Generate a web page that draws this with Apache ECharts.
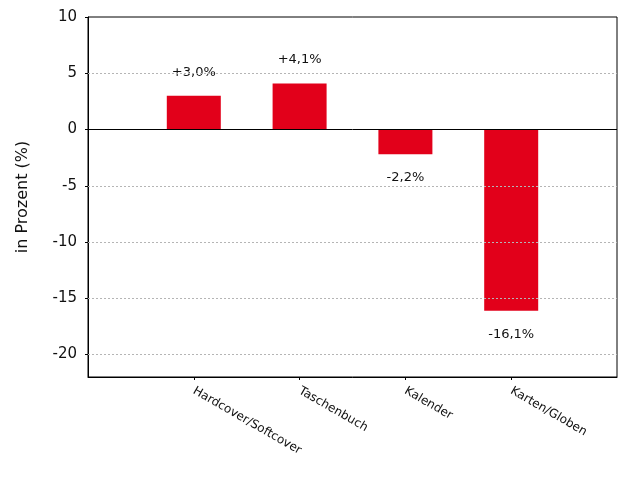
<!DOCTYPE html>
<html>
<head>
<meta charset="utf-8">
<script src="https://cdn.jsdelivr.net/npm/echarts@6/dist/echarts.min.js"></script>
<style>
  html, body { margin: 0; padding: 0; background: #fff; }
  #main { width: 640px; height: 480px; }
</style>
</head>
<body>
<div id="main"></div>
<script>
// Kategorien (leere Plätze an den Rändern für den Abstand)
var categories = ['', 'Hardcover/Softcover', 'Taschenbuch', 'Kalender', 'Karten/Globen', ''];
var values = [null, 3.0, 4.1, -2.2, -16.1, null];
var valueLabels = ['', '+3,0%', '+4,1%', '-2,2%', '-16,1%', ''];
var yTicks = [-20, -15, -10, -5, 0, 5, 10];
var gridValues = [-20, -15, -10, -5, 5];

var font = 'DejaVu Sans';
var myChart = echarts.init(document.getElementById('main'));

myChart.setOption({
    animation: false,
    textStyle: { fontFamily: font },
    grid: {
        left: 88, right: 23, top: 17, bottom: 103,
        show: true, borderColor: '#000', borderWidth: 1
    },
    xAxis: {
        type: 'category',
        data: categories,
        boundaryGap: false,
        axisLine: { onZero: false, lineStyle: { color: '#000' } },
        axisTick: {
            length: 3,
            interval: function (i) { return i > 0 && i < categories.length - 1; },
            lineStyle: { color: '#000' }
        },
        axisLabel: {
            interval: 0,
            rotate: -30,
            margin: 13,
            color: '#111',
            fontSize: 12,
            fontFamily: font
        },
        splitLine: { show: false }
    },
    yAxis: {
        type: 'value',
        min: -22,
        max: 10,
        name: 'in Prozent (%)',
        nameLocation: 'middle',
        nameGap: 57,
        nameTextStyle: { fontSize: 16, color: '#111', fontFamily: font },
        axisLine: { show: true, lineStyle: { color: '#000' } },
        axisTick: { show: true, length: 3, customValues: yTicks, lineStyle: { color: '#000' } },
        axisLabel: { customValues: yTicks, fontSize: 15, color: '#111', margin: 11, fontFamily: font },
        splitLine: { show: false }
    },
    series: [{
        // nur für die gepunkteten Hilfslinien (hinter den Balken)
        type: 'line',
        data: [],
        z: 1,
        markLine: {
            silent: true,
            symbol: 'none',
            label: { show: false },
            lineStyle: { color: '#b5b5b5', type: [2, 2], width: 1 },
            data: gridValues.map(function (v) { return { yAxis: v }; })
        }
    }, {
        type: 'bar',
        z: 2,
        data: values.map(function (v, i) {
            if (v === null) return null;
            return {
                value: v,
                label: { position: v >= 0 ? 'top' : 'bottom', formatter: valueLabels[i] }
            };
        }),
        barWidth: 54,
        itemStyle: { color: '#e2001a' },
        label: {
            show: true,
            distance: 17,
            fontSize: 13,
            color: '#111',
            fontFamily: font
        },
        markLine: {
            silent: true,
            symbol: 'none',
            label: { show: false },
            lineStyle: { color: '#000', type: 'solid', width: 1 },
            data: [{ yAxis: 0 }]
        }
    }]
});
</script>
</body>
</html>
